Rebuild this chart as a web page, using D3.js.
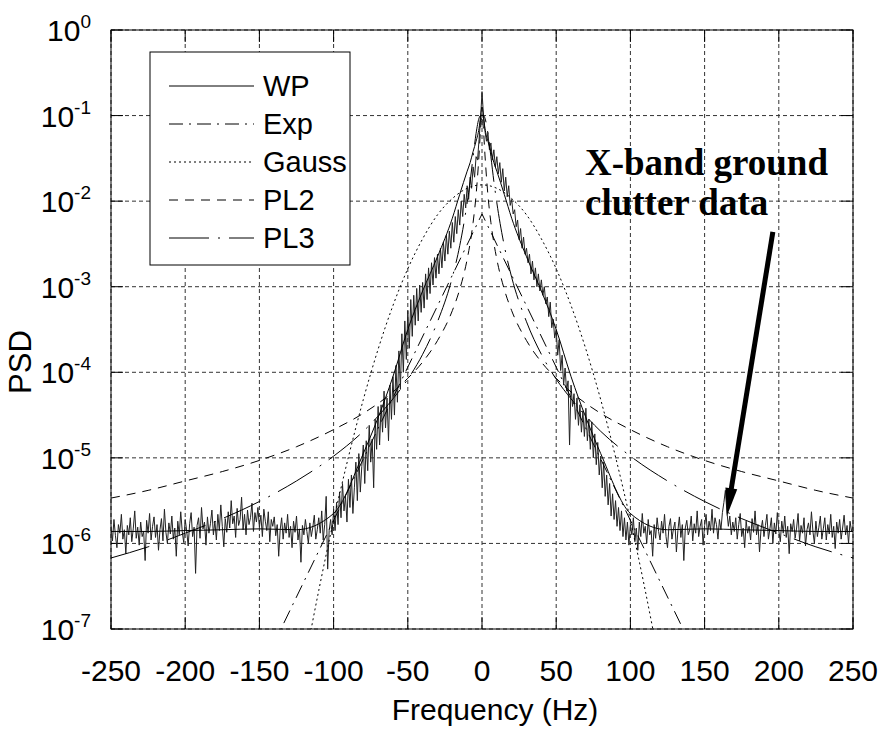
<!DOCTYPE html>
<html><head><meta charset="utf-8">
<script src="https://cdn.jsdelivr.net/npm/d3@7"></script>
<style>body{margin:0;background:#fff}svg{display:block}</style>
</head><body>
<svg id="c" width="884" height="741"></svg>
<script>
// ---- data (PSD stored as log10 values) ----
const xTicks = [-250,-200,-150,-100,-50,0,50,100,150,200,250];
const yExps = [0,-1,-2,-3,-4,-5,-6,-7];
// measured X-band ground clutter spectrum, 1 Hz spacing from -250 to 250
const dataLog = [
-5.80,-5.97,-5.72,-5.91,-6.05,-5.78,-5.88,-5.66,-5.95,-5.84,
-6.12,-5.79,-5.90,-5.70,-5.98,-5.83,-5.62,-5.94,-5.81,-6.02,
-5.75,-5.92,-5.86,-6.20,-5.73,-5.88,-5.65,-5.96,-5.80,-5.69,
-5.93,-5.78,-6.08,-5.84,-5.71,-5.97,-5.60,-5.87,-6.00,-5.76,
-5.89,-5.68,-5.95,-5.82,-6.15,-5.74,-5.90,-5.63,-5.86,-5.99,
-5.72,-5.85,-6.03,-5.77,-5.64,-5.92,-5.81,-6.35,-5.79,-5.70,
-5.94,-5.58,-5.83,-5.75,-6.02,-5.69,-5.88,-5.77,-5.61,-5.90,
-5.74,-5.96,-5.66,-5.85,-5.55,-5.80,-6.04,-5.71,-5.87,-5.63,
-5.82,-5.50,-5.77,-5.68,-5.93,-5.59,-5.79,-5.72,-5.46,-5.84,
-5.66,-5.90,-5.61,-5.78,-5.70,-5.53,-5.86,-5.64,-5.75,-5.58,
-5.81,-5.67,-5.92,-5.60,-5.74,-5.85,-5.63,-5.98,-5.72,-5.80,
-5.69,-5.91,-5.78,-6.15,-5.84,-5.70,-5.95,-5.76,-5.88,-5.66,
-5.93,-5.80,-6.05,-5.74,-5.87,-5.68,-5.96,-5.83,-6.22,-5.79,
-5.90,-5.72,-5.86,-6.00,-5.76,-5.92,-5.81,-5.67,-5.95,-5.84,
-5.70,-5.88,-5.62,-5.96,-5.78,-5.45,-6.30,-5.85,-5.72,-5.90,
-5.60,-5.85,-5.52,-5.78,-5.40,-5.70,-5.30,-5.62,-5.45,-5.75,
-5.25,-5.58,-5.20,-5.65,-5.35,-5.05,-5.50,-4.95,-5.40,-5.10,
-4.85,-5.30,-4.80,-5.15,-4.62,-5.05,-4.78,-5.35,-4.55,-4.90,
-4.40,-4.85,-4.38,-4.70,-4.22,-4.65,-4.30,-4.80,-4.15,-4.55,
-4.05,-4.50,-3.92,-4.35,-3.75,-4.20,-3.55,-4.00,-3.40,-3.85,
-3.28,-3.72,-3.15,-3.58,-3.10,-3.45,-3.02,-3.40,-2.98,-3.30,
-2.95,-3.25,-2.85,-3.15,-2.78,-3.08,-2.72,-2.98,-2.66,-2.90,
-2.62,-2.85,-2.55,-2.78,-2.48,-2.70,-2.40,-2.62,-2.35,-2.55,
-2.25,-2.48,-2.18,-2.38,-2.10,-2.28,-2.00,-2.18,-1.92,-2.08,
-1.82,-1.98,-1.72,-1.85,-1.60,-1.72,-1.48,-1.52,-1.28,-1.05,
-0.72,-1.00,-1.18,-1.30,-1.20,-1.40,-1.32,-1.52,-1.40,-1.60,
-1.48,-1.68,-1.55,-1.78,-1.62,-1.88,-1.72,-1.95,-1.82,-2.05,
-1.98,-2.15,-2.10,-2.30,-2.22,-2.45,-2.32,-2.55,-2.42,-2.62,
-2.55,-2.72,-2.62,-2.85,-2.70,-2.92,-2.78,-3.00,-2.85,-3.05,
-2.92,-3.10,-3.00,-3.20,-3.12,-3.35,-3.18,-3.48,-3.38,-3.60,
-3.50,-3.80,-3.62,-3.98,-3.80,-4.15,-3.95,-4.22,-4.10,-4.85,
-4.15,-4.40,-4.25,-4.55,-4.30,-4.62,-4.38,-4.70,-4.45,-4.75,
-4.42,-4.80,-4.55,-4.90,-4.58,-5.00,-4.72,-5.08,-4.82,-5.20,
-4.98,-5.35,-5.05,-5.45,-5.20,-5.55,-5.30,-5.68,-5.42,-5.72,
-5.50,-5.80,-5.58,-5.85,-5.62,-5.92,-5.70,-5.96,-5.75,-6.02,
-5.78,-5.90,-5.70,-5.98,-5.82,-6.08,-5.75,-5.92,-5.65,-5.88,
-5.80,-6.00,-5.72,-5.90,-5.85,-6.15,-5.78,-5.94,-5.70,-5.86,
-5.96,-5.74,-5.88,-5.66,-5.92,-6.05,-5.80,-5.71,-5.95,-5.83,
-5.75,-6.10,-5.85,-5.69,-5.93,-5.78,-6.20,-5.82,-5.73,-5.90,
-5.84,-5.68,-5.97,-5.77,-5.88,-5.62,-5.92,-5.80,-5.72,-6.02,
-5.79,-5.66,-5.90,-5.74,-5.85,-5.60,-5.88,-5.70,-5.78,-5.95,
-5.72,-5.84,-5.64,-5.52,-5.38,-5.62,-5.80,-5.68,-5.90,-5.75,
-5.86,-5.70,-5.95,-5.78,-5.65,-5.92,-5.82,-6.05,-5.74,-5.88,
-5.80,-5.96,-5.71,-5.87,-5.62,-5.90,-5.78,-6.10,-5.84,-5.73,
-5.92,-5.79,-5.66,-5.95,-5.83,-5.70,-6.00,-5.76,-5.89,-5.64,
-5.85,-5.98,-5.74,-5.88,-5.68,-5.93,-5.80,-6.12,-5.77,-5.86,
-5.72,-5.94,-5.82,-5.65,-5.97,-5.79,-5.88,-5.70,-6.03,-5.84,
-5.76,-5.90,-5.63,-5.86,-6.00,-5.74,-5.92,-5.81,-5.68,-5.95,
-5.83,-5.70,-5.96,-5.78,-5.89,-5.66,-5.93,-5.80,-6.06,-5.75,
-5.88,-5.72,-5.95,-5.82,-5.67,-5.90,-5.79,-6.00,-5.74,-5.86,
-5.80];
const dataFreq = d3.range(-250, 251, 1);

const modelFreq = [-250,-225,-200,-175,-150,-125,-100,-80,-60,-50,-40,-30,-20,-15,-10,-8,-6,-4,-2,-1,0,1,2,4,6,8,10,15,20,30,40,50,60,80,100,125,150,175,200,225,250];
const wpLog  = [-5.86,-5.86,-5.85,-5.84,-5.83,-5.84,-5.65,-4.95,-4.05,-3.5,-3.05,-2.65,-2.2,-1.92,-1.65,-1.55,-1.42,-1.3,-1.15,-1.02,-0.9,-1.02,-1.15,-1.3,-1.42,-1.55,-1.65,-1.92,-2.2,-2.65,-3.05,-3.5,-4.05,-4.95,-5.65,-5.84,-5.83,-5.84,-5.85,-5.86,-5.86];
const pl2Log = [-5.47,-5.38,-5.27,-5.16,-5.03,-4.87,-4.67,-4.48,-4.23,-4.07,-3.88,-3.63,-3.28,-3.03,-2.68,-2.49,-2.25,-1.93,-1.46,-1.17,-1.0,-1.17,-1.46,-1.93,-2.25,-2.49,-2.68,-3.03,-3.28,-3.63,-3.88,-4.07,-4.23,-4.48,-4.67,-4.87,-5.03,-5.16,-5.27,-5.38,-5.47];
const pl3Log = [-6.17,-6.04,-5.88,-5.71,-5.51,-5.27,-4.98,-4.69,-4.31,-4.08,-3.79,-3.41,-2.89,-2.52,-2.02,-1.77,-1.48,-1.21,-1.03,-1.0,-1.0,-1.0,-1.03,-1.21,-1.48,-1.77,-2.02,-2.52,-2.89,-3.41,-3.79,-4.08,-4.31,-4.69,-4.98,-5.27,-5.51,-5.71,-5.88,-6.04,-6.17];
const gaussFreq = [-140,-130,-120,-110,-100,-90,-80,-70,-60,-50,-40,-30,-20,-10,0,10,20,30,40,50,60,70,80,90,100,110,120,130,140];
const gaussLog  = [-9.49,-8.43,-7.45,-6.55,-5.73,-4.99,-4.32,-3.73,-3.22,-2.79,-2.44,-2.16,-1.97,-1.85,-1.81,-1.85,-1.97,-2.16,-2.44,-2.79,-3.22,-3.73,-4.32,-4.99,-5.73,-6.55,-7.45,-8.43,-9.49];
const expFreq = [-150,-100,-50,0,50,100,150];
const expLog  = [-7.52,-5.73,-3.94,-2.15,-3.94,-5.73,-7.52];

const legendNames = ["WP","Exp","Gauss","PL2","PL3"];
const annotLines = ["X-band ground","clutter data"];
const arrowFrom = [196, -2.36], arrowTo = [165, -5.68];

// ---- layout ----
const svg = d3.select("#c");
const L = 111, R = 853, T = 30, B = 629;
const x = d3.scaleLinear().domain([-250,250]).range([L,R]);
const y = d3.scaleLog().domain([1e-7,1]).range([B,T]);
const P = v => Math.pow(10, v);

const styles = {
  WP:   {dash:null, w:1},
  Exp:  {dash:"14,6,2,6", w:1},
  Gauss:{dash:"2,3", w:1},
  PL2:  {dash:"9,7", w:1},
  PL3:  {dash:"40,9,2,9", w:1}
};

svg.append("defs").append("clipPath").attr("id","clip")
  .append("rect").attr("x",L).attr("y",T).attr("width",R-L).attr("height",B-T);

// grid
const grid = svg.append("g").attr("stroke","#333").attr("stroke-dasharray","4,3").attr("stroke-width",1);
xTicks.forEach(t => grid.append("line").attr("x1",x(t)).attr("x2",x(t)).attr("y1",T).attr("y2",B));
yExps.forEach(e => grid.append("line").attr("x1",L).attr("x2",R).attr("y1",y(P(e))).attr("y2",y(P(e))));

// ticks inward
const tk = svg.append("g").attr("stroke","#000").attr("stroke-width",1);
xTicks.forEach(t => {
  tk.append("line").attr("x1",x(t)).attr("x2",x(t)).attr("y1",B).attr("y2",B-12);
  tk.append("line").attr("x1",x(t)).attr("x2",x(t)).attr("y1",T).attr("y2",T+12);
});
yExps.forEach(e => {
  tk.append("line").attr("x1",L).attr("x2",L+12).attr("y1",y(P(e))).attr("y2",y(P(e)));
  tk.append("line").attr("x1",R).attr("x2",R-12).attr("y1",y(P(e))).attr("y2",y(P(e)));
});

// frame
svg.append("rect").attr("x",L).attr("y",T).attr("width",R-L).attr("height",B-T)
  .attr("fill","none").attr("stroke","#000").attr("stroke-width",1);

const plot = svg.append("g").attr("clip-path","url(#clip)");
const lineGen = (curve) => d3.line().x(d=>x(d[0])).y(d=>y(P(d[1]))).curve(curve);

// measured data
plot.append("path").datum(dataFreq.map((f,i)=>[f,dataLog[i]]))
  .attr("d", lineGen(d3.curveLinear)).attr("fill","none").attr("stroke","#222").attr("stroke-width",1);

// models
const models = [
  ["WP", modelFreq, wpLog, d3.curveMonotoneX],
  ["Exp", expFreq, expLog, d3.curveLinear],
  ["Gauss", gaussFreq, gaussLog, d3.curveMonotoneX],
  ["PL2", modelFreq, pl2Log, d3.curveMonotoneX],
  ["PL3", modelFreq, pl3Log, d3.curveMonotoneX]
];
models.forEach(([name, fs, vs, cv]) => {
  plot.append("path").datum(fs.map((f,i)=>[f,vs[i]]))
    .attr("d", lineGen(cv)).attr("fill","none").attr("stroke","#000")
    .attr("stroke-width", styles[name].w)
    .attr("stroke-dasharray", styles[name].dash);
});

// axis labels
const font = "'Liberation Sans', Arial, sans-serif";
xTicks.forEach(t => svg.append("text").attr("x",x(t)).attr("y",681)
  .attr("text-anchor","middle").attr("font-family",font).attr("font-size",30).text(t));
yExps.forEach(e => {
  const tx = svg.append("text").attr("x",91).attr("y",y(P(e))+11)
    .attr("text-anchor","end").attr("font-family",font).attr("font-size",30);
  tx.append("tspan").text("10");
  tx.append("tspan").attr("dy",-13).attr("font-size",19).text(e);
});
svg.append("text").attr("x",495).attr("y",720).attr("text-anchor","middle")
  .attr("font-family",font).attr("font-size",30).text("Frequency (Hz)");
svg.append("text").attr("transform","translate(31,362) rotate(-90)").attr("text-anchor","middle")
  .attr("font-family",font).attr("font-size",31).text("PSD");

// legend
const lg = svg.append("g");
lg.append("rect").attr("x",150).attr("y",52).attr("width",200).attr("height",213)
  .attr("fill","#fff").attr("stroke","#000").attr("stroke-width",1);
legendNames.forEach((n,i) => {
  const yy = 86 + i*38;
  lg.append("line").attr("x1",169).attr("x2",254).attr("y1",yy).attr("y2",yy)
    .attr("stroke","#000").attr("stroke-width",1).attr("stroke-dasharray",styles[n].dash);
  lg.append("text").attr("x",263).attr("y",yy).attr("dy","0.36em")
    .attr("font-family",font).attr("font-size",29).text(n);
});

// annotation
annotLines.forEach((s,i) => svg.append("text").attr("x",585).attr("y",175+i*40)
  .attr("font-family","'Liberation Serif','Times New Roman',serif").attr("font-weight","bold")
  .attr("font-size",37).text(s));
const ax0 = x(arrowFrom[0]), ay0 = y(P(arrowFrom[1])), ax1 = x(arrowTo[0]), ay1 = y(P(arrowTo[1]));
const dx = ax1-ax0, dy = ay1-ay0, len = Math.hypot(dx,dy), ux = dx/len, uy = dy/len;
const hl = 28, hw = 6;
const bx = ax1-ux*hl, by = ay1-uy*hl;
svg.append("line").attr("x1",ax0).attr("y1",ay0).attr("x2",bx+ux*2).attr("y2",by+uy*2)
  .attr("stroke","#000").attr("stroke-width",5);
svg.append("path").attr("d",`M${ax1},${ay1}L${bx-uy*hw},${by+ux*hw}L${bx+uy*hw},${by-ux*hw}Z`).attr("fill","#000");
</script>
</body></html>
